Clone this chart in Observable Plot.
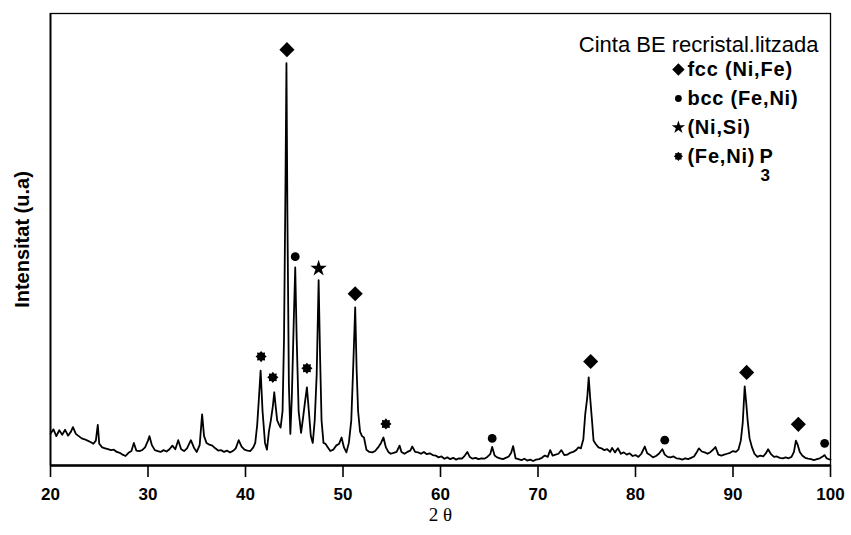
<!DOCTYPE html>
<html>
<head>
<meta charset="utf-8">
<script src="https://cdn.jsdelivr.net/npm/d3@7"></script>
<script src="https://cdn.jsdelivr.net/npm/@observablehq/plot@0.6"></script>
<style>
  html, body { margin: 0; padding: 0; background: #fff; }
  #chart { width: 851px; height: 535px; }
</style>
</head>
<body>
<div id="chart"></div>
<script>
// ---- Data ----
const twoTheta = [
  20.0,20.3,20.6,20.9,21.2,21.5,21.8,22.1,22.3,22.6,22.9,23.2,23.5,23.8,24.1,24.4,24.65,24.85,25.0,25.3,
  25.6,25.9,26.2,26.5,26.8,27.1,27.4,27.7,28.0,28.3,28.55,28.8,29.1,29.4,29.7,30.0,30.15,30.4,30.7,31.0,
  31.3,31.6,31.9,32.2,32.5,32.8,33.1,33.4,33.7,34.0,34.4,34.7,35.0,35.3,35.55,35.75,36.0,36.3,36.6,36.9,
  37.2,37.5,37.8,38.1,38.4,38.7,39.0,39.3,39.6,39.9,40.2,40.5,40.8,41.0,41.2,41.35,41.55,41.75,42.0,42.2,
  42.4,42.6,42.8,42.95,43.1,43.25,43.45,43.6,43.8,43.95,44.1,44.2,44.3,44.45,44.6,44.75,44.95,45.1,45.25,45.45,
  45.7,45.9,46.1,46.3,46.5,46.7,46.9,47.1,47.3,47.5,47.65,47.8,48.0,48.2,48.45,48.7,49.0,49.3,49.6,49.85,
  50.1,50.35,50.6,50.85,51.05,51.25,51.4,51.55,51.75,51.95,52.15,52.4,52.7,53.0,53.3,53.6,53.9,54.15,54.4,54.65,
  54.9,55.2,55.5,55.8,56.0,56.3,56.6,56.9,57.1,57.4,57.7,58.0,58.3,58.6,58.9,59.2,59.5,59.8,60.1,60.4,
  60.7,61.0,61.3,61.6,61.9,62.2,62.5,62.75,63.0,63.3,63.6,63.9,64.2,64.5,64.8,65.1,65.3,65.55,65.8,66.1,
  66.4,66.7,67.0,67.25,67.45,67.7,68.0,68.3,68.6,68.9,69.2,69.5,69.8,70.1,70.4,70.7,71.0,71.25,71.5,71.8,
  72.1,72.4,72.7,73.0,73.3,73.6,73.9,74.15,74.4,74.65,74.85,75.05,75.2,75.35,75.5,75.7,75.9,76.2,76.5,76.8,
  77.1,77.4,77.6,77.9,78.2,78.5,78.8,79.1,79.4,79.7,80.0,80.3,80.6,80.95,81.2,81.5,81.8,82.1,82.4,82.75,
  83.0,83.3,83.6,83.9,84.2,84.5,84.8,85.1,85.4,85.7,86.0,86.3,86.5,86.8,87.1,87.4,87.7,88.0,88.2,88.5,
  88.8,89.1,89.4,89.7,90.0,90.3,90.55,90.8,91.0,91.2,91.35,91.5,91.7,91.95,92.2,92.5,92.8,93.1,93.4,93.6,
  93.9,94.2,94.5,94.8,95.1,95.4,95.7,96.0,96.25,96.45,96.65,96.85,97.1,97.4,97.7,98.0,98.3,98.6,98.9,99.2,
  99.4,99.6,99.8,100.0
];
const intensity = [
  7.0,8.0,6.5,7.8,6.8,7.9,6.6,7.5,8.5,7.0,6.5,6.0,5.8,5.5,5.2,4.8,5.5,9.0,4.8,4.0,
  3.8,3.6,3.4,3.5,3.0,2.8,2.4,2.1,2.8,3.2,5.0,3.3,3.2,3.4,4.0,5.5,6.5,4.5,3.4,3.2,
  3.0,3.4,3.1,3.6,4.4,3.6,5.6,3.6,3.2,3.8,5.6,4.0,3.0,4.5,11.3,6.5,5.0,4.6,4.4,3.8,
  3.3,3.4,3.0,3.3,2.9,3.2,3.8,5.6,4.2,3.5,3.3,3.2,4.0,5.0,9.0,14.0,21.0,12.0,5.0,3.5,
  7.5,10.0,13.0,16.2,13.0,10.0,9.0,8.4,12.0,28.0,62.0,89.0,55.0,18.0,7.0,15.0,32.0,43.8,28.0,12.0,
  7.2,10.5,14.0,17.3,12.0,6.5,5.0,10.0,20.0,41.0,24.0,10.0,5.0,4.8,4.0,3.2,3.5,4.4,4.8,6.2,
  4.0,2.9,5.0,10.0,22.0,35.0,21.0,12.0,7.5,6.5,6.2,3.5,3.0,2.9,3.2,4.0,5.0,6.2,4.0,3.0,
  2.6,2.8,3.0,4.4,3.0,2.6,3.0,3.3,4.2,3.0,2.9,2.6,3.0,2.5,2.7,2.3,2.2,1.8,2.0,1.5,
  1.8,1.4,1.7,1.3,1.6,1.5,2.2,3.0,1.9,1.5,1.7,1.4,1.6,1.5,1.9,2.5,4.1,2.2,1.8,1.6,
  1.4,1.7,2.0,2.8,4.3,1.6,1.4,1.2,1.5,1.1,1.3,1.0,1.3,1.4,1.7,2.2,1.9,3.4,2.2,2.4,
  2.6,3.4,2.3,2.4,2.8,3.0,3.4,4.0,3.8,5.8,11.5,15.0,19.5,15.0,11.0,5.5,4.8,4.0,3.8,3.4,
  3.6,3.0,3.9,2.9,3.8,2.6,2.9,2.4,2.7,2.1,2.3,1.9,2.6,4.2,2.7,2.3,1.8,2.1,2.6,3.6,
  2.4,1.9,1.8,2.0,1.6,1.5,1.3,1.6,1.4,1.7,2.0,3.0,3.8,3.1,2.9,2.6,3.0,3.6,4.1,2.4,
  2.2,2.4,2.6,2.8,3.2,3.0,3.5,5.5,9.5,17.5,14.0,10.0,6.0,4.0,2.6,1.9,2.2,2.0,2.8,3.6,
  2.5,1.9,2.0,1.7,1.6,1.8,1.6,1.9,3.0,5.5,4.5,3.0,2.2,1.7,1.5,1.4,1.2,1.4,1.6,2.0,
  2.3,1.6,1.4,1.3
];

// Phase markers above the peaks
const fccX = [44.25, 51.25, 75.4, 91.4, 96.7];
const fccY = [92, 38, 23, 20.6, 9.1];
const bccX = [45.1, 65.3, 83.0, 99.4];
const bccY = [46.2, 6.0, 5.6, 4.9];
const nisiX = [47.5];
const nisiY = [43.6];
const phosX = [41.6, 42.8, 46.3, 54.4];
const phosY = [24.1, 19.5, 21.5, 9.2];

// Legend
const legendLabels = ["fcc (Ni,Fe)", "bcc (Fe,Ni)", "(Ni,Si)", "(Fe,Ni)"];
const xTicks = [20, 30, 40, 50, 60, 70, 80, 90, 100];
const titleText = "Cinta BE recristal.litzada";
const xLabel = "2 θ";
const yLabel = "Intensitat (u.a)";

// ---- Build ----
const spectrum = twoTheta.map((t, i) => ({t, v: intensity[i]}));
const pts = (xs, ys) => xs.map((x, i) => ({x, y: ys[i]}));

const burst = {
  draw(ctx, size) {
    const r = Math.sqrt(size / Math.PI);
    const n = 8;
    for (let i = 0; i < 2 * n; i++) {
      const a = i * Math.PI / n - Math.PI / 2;
      const rr = i % 2 ? r * 0.72 : r;
      const px = rr * Math.cos(a), py = rr * Math.sin(a);
      if (i === 0) ctx.moveTo(px, py); else ctx.lineTo(px, py);
    }
    ctx.closePath();
  }
};

const symbols = ["diamond2", "circle", "star", burst];
const symR = [5.6, 3.4, 4.2, 4.6];
const legendX = 84.4;
const legendTop = 87.6;
const legendStep = 6.4;
const legend = legendLabels.map((label, i) => ({label, x: legendX, y: legendTop - i * legendStep, i}));

const chart = Plot.plot({
  width: 851,
  height: 535,
  marginLeft: 50,
  marginRight: 21,
  marginTop: 13,
  marginBottom: 70,
  style: {fontFamily: "'Liberation Sans', Arial, sans-serif", background: "#fff", color: "#000", overflow: "visible"},
  x: {domain: [20, 100]},
  y: {domain: [0, 100], axis: null},
  marks: [
    Plot.frame({stroke: "#000", strokeWidth: 1.3}),
    Plot.ruleX([20], {stroke: "#000", strokeWidth: 1.8}),
    Plot.ruleY([0], {stroke: "#000", strokeWidth: 2.6}),
    Plot.axisX({ticks: xTicks, tickSize: 12, tickPadding: 10, fontSize: 17, fontWeight: "bold", label: null, strokeWidth: 1.6}),
    Plot.line(spectrum, {x: "t", y: "v", stroke: "#000", strokeWidth: 1.8, curve: "linear"}),
    Plot.dot(pts(fccX, fccY), {x: "x", y: "y", symbol: "diamond2", r: 6.8, fill: "#000"}),
    Plot.dot(pts(bccX, bccY), {x: "x", y: "y", symbol: "circle", r: 4.4, fill: "#000"}),
    Plot.dot(pts(nisiX, nisiY), {x: "x", y: "y", symbol: "star", r: 5.2, fill: "#000"}),
    Plot.dot(pts(phosX, phosY), {x: "x", y: "y", symbol: burst, r: 5.6, fill: "#000"}),
    // legend symbols
    ...legend.map(d => Plot.dot([d], {x: "x", y: "y", symbol: symbols[d.i], r: symR[d.i], fill: "#000"})),
    Plot.text(legend, {x: "x", y: "y", text: "label", dx: 9, textAnchor: "start", fontSize: 20, fontWeight: "bold"}),
    Plot.text(legend.slice(3), {x: "x", y: "y", text: () => "P", dx: 81, textAnchor: "start", fontSize: 20, fontWeight: "bold"}),
    Plot.text(legend.slice(3), {x: "x", y: "y", text: () => "3", dx: 82, dy: 19, textAnchor: "start", fontSize: 17, fontWeight: "bold"}),
    // title
    Plot.text([titleText], {frameAnchor: "top-right", dx: -12, dy: 31, fontSize: 22, lineAnchor: "middle"}),
    // axis labels
    Plot.text([xLabel], {frameAnchor: "bottom", dy: 55, fontSize: 19, fontFamily: "'Liberation Serif', 'DejaVu Serif', serif"}),
    Plot.text([yLabel], {frameAnchor: "left", textAnchor: "middle", dx: -28, rotate: -90, fontSize: 20, fontWeight: "bold"})
  ]
});

// slightly wider letter spacing on the legend labels, like the scanned original
d3.select(chart).selectAll("text")
  .filter(function() { return legendLabels.includes(this.textContent); })
  .style("letter-spacing", "0.8px");

document.getElementById("chart").appendChild(chart);
</script>
</body>
</html>
